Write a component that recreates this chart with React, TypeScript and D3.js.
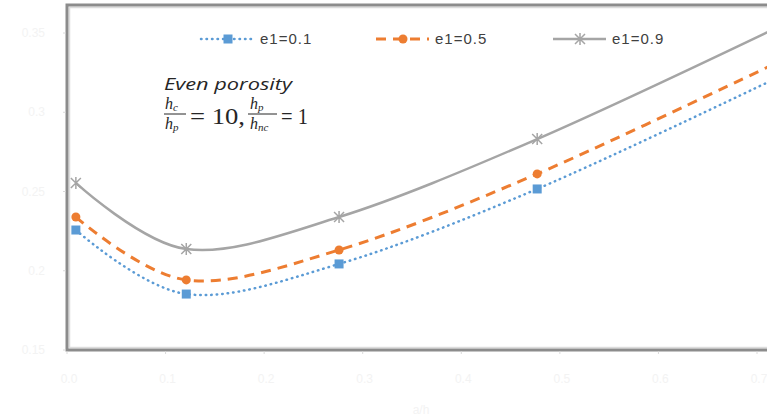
import React from 'react';
import * as d3 from 'd3';

// values
const xValues = [0.009, 0.121, 0.276, 0.477, 0.728];
const e1_01 = [0.2257, 0.1853, 0.2043, 0.2516, 0.324];
const e1_05 = [0.2339, 0.1942, 0.2131, 0.2611, 0.3336];
const e1_09 = [0.2554, 0.2137, 0.2339, 0.2831, 0.3557];
const xTicks = [0, 0.1, 0.2, 0.3, 0.4, 0.5, 0.6, 0.7];
const yTicks = [0.15, 0.2, 0.25, 0.3, 0.35];
const seriesNames = ['e1=0.1', 'e1=0.5', 'e1=0.9'];

const W = 767;
const H = 418;
const plot = { left: 67, top: 5, right: 757, bottom: 350 };

const x = d3.scaleLinear().domain([0, 0.7]).range([plot.left, plot.right]);
const y = d3.scaleLinear().domain([0.15, 0.35]).range([plot.bottom, 33]);

const line = d3.line<number>()
  .x((d, i) => x(xValues[i]))
  .y(d => y(d))
  .curve(d3.curveCardinal.tension(0));

const blue = '#5B9BD5';
const orange = '#ED7D31';
const gray = '#A5A5A5';

const Square = ({ cx, cy }: { cx: number, cy: number }) =>
  <rect x={cx - 4.5} y={cy - 4.5} width={9} height={9} fill={blue} />;
const Dot = ({ cx, cy }: { cx: number, cy: number }) =>
  <circle cx={cx} cy={cy} r={4.5} fill={orange} />;
const Star = ({ cx, cy }: { cx: number, cy: number }) =>
  <path d={`M${cx - 5},${cy - 5}L${cx + 5},${cy + 5}M${cx - 5},${cy + 5}L${cx + 5},${cy - 5}M${cx},${cy - 6}L${cx},${cy + 6}`}
    stroke={gray} strokeWidth={1.5} fill="none" />;

const series = [
  { name: seriesNames[0], values: e1_01, color: blue, dash: '0.5 5', width: 2.5, Marker: Square },
  { name: seriesNames[1], values: e1_05, color: orange, dash: '10 7', width: 3, Marker: Dot },
  { name: seriesNames[2], values: e1_09, color: gray, dash: undefined, width: 2.5, Marker: Star },
];

const legendX = [201, 376, 553];

export default function App() {
  const serif = '"Liberation Serif", "DejaVu Serif", serif';
  const sans = '"Liberation Sans", Arial, sans-serif';
  const faint = '#f3f3f3';
  return (
    <svg width={W} height={H} style={{ position: 'fixed', left: 0, top: 0, background: '#fff' }}>
      {/* plot frame */}
      <rect x={plot.left + 2.5} y={plot.top + 2.5} width={W} height={plot.bottom - plot.top - 5}
        fill="none" stroke="#dcdcdc" strokeWidth={1.5} />
      <rect x={plot.left} y={plot.top} width={W} height={plot.bottom - plot.top}
        fill="none" stroke="#8c8c8c" strokeWidth={3} />

      {/* axes (labels are nearly white in the reference) */}
      {yTicks.map(t => (
        <g key={'y' + t}>
          <line x1={plot.left - 4} x2={plot.left - 1.5} y1={y(t)} y2={y(t)} stroke="#dadada" />
          <text x={45} y={y(t) + 4} textAnchor="end" fontSize={12} fontFamily={sans} fill={faint}>{t}</text>
        </g>
      ))}
      {xTicks.map(t => (
        <g key={'x' + t}>
          <line x1={x(t)} x2={x(t)} y1={plot.bottom + 1.5} y2={plot.bottom + 4} stroke="#dadada" />
          <text x={x(t) + 2} y={383} textAnchor="middle" fontSize={12} fontFamily={sans} fill={faint}>{t.toFixed(1)}</text>
        </g>
      ))}
      <text x={421} y={414} textAnchor="middle" fontSize={12} fontFamily={sans} fill={faint}>a/h</text>

      {/* series */}
      {series.map(s => (
        <g key={s.name}>
          <path d={line(s.values) || ''} fill="none" stroke={s.color} strokeWidth={s.width}
            strokeDasharray={s.dash} strokeLinecap={s.dash === '0.5 5' ? 'round' : 'butt'} />
          {s.values.map((v, i) => <s.Marker key={i} cx={x(xValues[i])} cy={y(v)} />)}
        </g>
      ))}

      {/* legend */}
      {series.map((s, i) => (
        <g key={'lg' + s.name}>
          <line x1={legendX[i]} x2={legendX[i] + 53} y1={39} y2={39} stroke={s.color} strokeWidth={s.width}
            strokeDasharray={s.dash} strokeLinecap={s.dash === '0.5 5' ? 'round' : 'butt'} />
          <s.Marker cx={legendX[i] + 27} cy={39} />
          <text x={legendX[i] + 59} y={44} fontSize={15} fontFamily={sans} fill="#404040" letterSpacing={1}>{s.name}</text>
        </g>
      ))}

      {/* annotation */}
      <text x={164} y={90} fontSize={17} fontStyle="italic" fontFamily='"Open Sans", sans-serif' fill="#262626"
        textLength={128} lengthAdjust="spacingAndGlyphs">Even porosity</text>
      <g fontFamily={serif} fill="#262626" fontStyle="italic">
        <text x={165} y={109} fontSize={16}>h<tspan fontSize={11} dy={2}>c</tspan></text>
        <line x1={164} x2={186} y1={114} y2={114} stroke="#262626" strokeWidth={1} />
        <text x={165} y={129} fontSize={16}>h<tspan fontSize={11} dy={2}>p</tspan></text>
        <text x={190} y={124} fontSize={23} fontStyle="normal" textLength={55} lengthAdjust="spacingAndGlyphs">= 10,</text>
        <text x={250} y={109} fontSize={16}>h<tspan fontSize={11} dy={2}>p</tspan></text>
        <line x1={248} x2={277} y1={114} y2={114} stroke="#262626" strokeWidth={1} />
        <text x={250} y={129} fontSize={16}>h<tspan fontSize={11} dy={2}>nc</tspan></text>
        <text x={281} y={124} fontSize={23} fontStyle="normal" textLength={27} lengthAdjust="spacingAndGlyphs">= 1</text>
      </g>
    </svg>
  );
}
